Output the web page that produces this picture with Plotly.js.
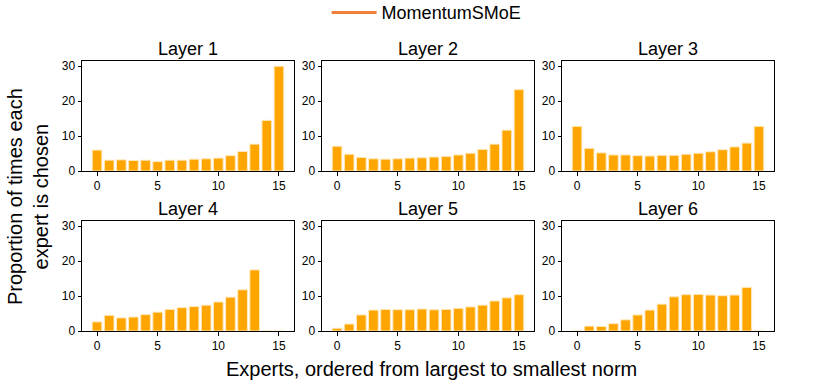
<!DOCTYPE html>
<html>
<head>
<meta charset="utf-8">
<script src="https://cdn.plot.ly/plotly-3.0.1.min.js"></script>
<style>
  body { margin: 0; background: #fff; }
  #plot { width: 830px; height: 385px; }
</style>
</head>
<body>
<div id="plot"></div>
<script>
// experts 0..15, ordered from largest to smallest norm
const experts = [0, 1, 2, 3, 4, 5, 6, 7, 8, 9, 10, 11, 12, 13, 14, 15];

// proportion (%) of times each expert is chosen, per layer
const layer1 = [6.0, 3.1, 3.2, 3.0, 3.1, 2.7, 3.1, 3.1, 3.4, 3.5, 3.7, 4.4, 5.6, 7.7, 14.5, 30.0];
const layer2 = [7.1, 4.8, 3.9, 3.5, 3.4, 3.5, 3.7, 3.8, 4.0, 4.2, 4.6, 5.1, 6.2, 7.7, 11.7, 23.3];
const layer3 = [12.8, 6.5, 5.2, 4.6, 4.6, 4.4, 4.3, 4.5, 4.5, 4.8, 5.1, 5.5, 6.1, 6.9, 8.0, 12.8];
const layer4 = [2.6, 4.5, 3.75, 4.0, 4.7, 5.4, 6.2, 6.7, 7.0, 7.4, 8.3, 9.7, 11.8, 17.5, 0, 0];
const layer5 = [0.8, 2.0, 4.6, 6.0, 6.2, 6.1, 6.1, 6.3, 6.1, 6.2, 6.5, 6.9, 7.4, 8.6, 9.5, 10.4];
const layer6 = [0, 1.4, 1.3, 2.1, 3.2, 4.6, 6.0, 7.7, 9.8, 10.4, 10.5, 10.3, 10.1, 10.3, 12.5, 0];

const layers = [layer1, layer2, layer3, layer4, layer5, layer6];
const layerNames = ['Layer 1', 'Layer 2', 'Layer 3', 'Layer 4', 'Layer 5', 'Layer 6'];
const xTicks = [0, 5, 10, 15];
const yTicks = [0, 10, 20, 30];

const W = 830, H = 385;
const FONT = 'Liberation Sans, Arial, sans-serif';

// subplot boxes in pixels
const cols = [[82, 294], [322, 534], [562, 774]];
const rows = [[61, 171], [221, 331]];

const traces = [];
const layout = {
    width: W,
    height: H,
    margin: { l: 0, r: 0, t: 0, b: 0, autoexpand: false },
    paper_bgcolor: '#fff',
    plot_bgcolor: '#fff',
    font: { family: FONT, color: '#000', size: 12 },
    bargap: 0.2,
    showlegend: true,
    legend: {
        orientation: 'h',
        x: 0.514, xanchor: 'center',
        y: 1.015, yanchor: 'top',
        itemwidth: 45,
        font: { size: 18, family: FONT },
        bgcolor: 'rgba(0,0,0,0)'
    },
    annotations: []
};

layers.forEach((vals, i) => {
    const r = Math.floor(i / 3), c = i % 3;
    const n = i + 1;
    const xa = n === 1 ? 'x' : 'x' + n;
    const ya = n === 1 ? 'y' : 'y' + n;

    traces.push({
        type: 'bar',
        x: experts,
        y: vals,
        width: 0.8,
        xaxis: xa,
        yaxis: ya,
        marker: { color: '#FFA500', line: { color: '#FFE9C0', width: 1 } },
        showlegend: false,
        hoverinfo: 'skip'
    });

    const xd = [cols[c][0] / W, cols[c][1] / W];
    const yd = [1 - rows[r][1] / H, 1 - rows[r][0] / H];

    const axCommon = {
        showline: true, mirror: true, linecolor: '#000', linewidth: 1,
        ticks: 'outside', ticklen: 3.5, tickwidth: 1, tickcolor: '#000',
        showgrid: false, zeroline: false,
        tickfont: { size: 12, family: FONT }
    };

    layout['xaxis' + (n === 1 ? '' : n)] = Object.assign({}, axCommon, {
        domain: xd,
        anchor: ya,
        range: [-1.24, 16.24],
        tickvals: xTicks,
        ticktext: xTicks.map(String)
    });
    layout['yaxis' + (n === 1 ? '' : n)] = Object.assign({}, axCommon, {
        domain: yd,
        anchor: xa,
        range: [0, 31.5],
        tickvals: yTicks,
        ticktext: yTicks.map(String)
    });

    layout.annotations.push({
        text: layerNames[i],
        xref: 'paper', yref: 'paper',
        x: (xd[0] + xd[1]) / 2, y: yd[1],
        xanchor: 'center', yanchor: 'bottom',
        yshift: 0,
        showarrow: false,
        font: { size: 18, family: FONT }
    });
});

// legend-only line entry
traces.push({
    type: 'scatter',
    mode: 'lines',
    x: [null],
    y: [null],
    name: 'MomentumSMoE',
    line: { color: '#F0803A', width: 3 },
    xaxis: 'x',
    yaxis: 'y',
    showlegend: true
});

layout.annotations.push({
    text: 'Proportion of times each<br>expert is chosen',
    xref: 'paper', yref: 'paper',
    x: 28 / W, y: 1 - 197 / H,
    xanchor: 'center', yanchor: 'middle',
    textangle: -90,
    showarrow: false,
    font: { size: 20, family: FONT }
});

layout.annotations.push({
    text: 'Experts, ordered from largest to smallest norm',
    xref: 'paper', yref: 'paper',
    x: 431 / W, y: 1 - 369 / H,
    xanchor: 'center', yanchor: 'middle',
    showarrow: false,
    font: { size: 20, family: FONT }
});

Plotly.newPlot('plot', traces, layout, { displayModeBar: false, staticPlot: true });
</script>
</body>
</html>
